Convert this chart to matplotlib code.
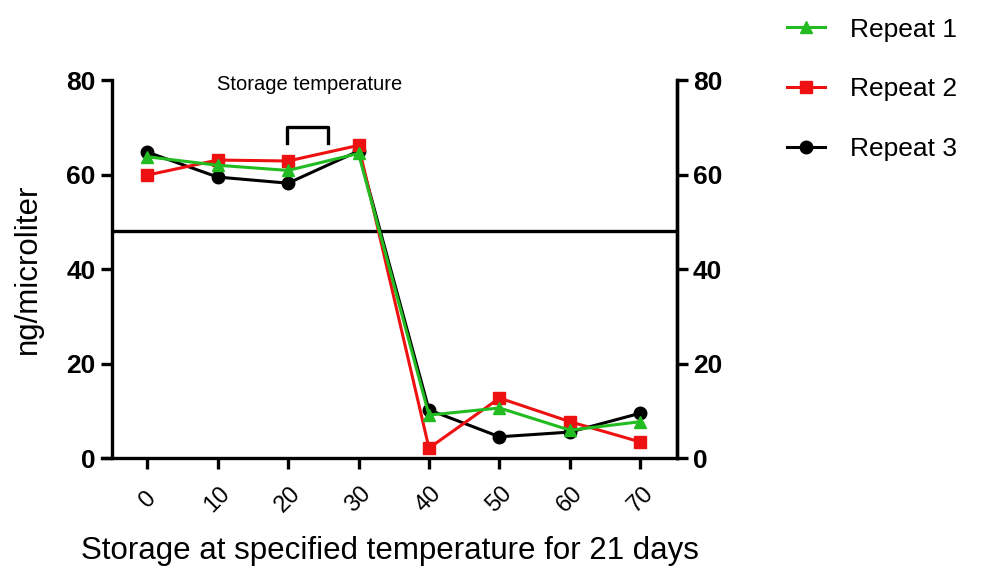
import matplotlib.pyplot as plt
from matplotlib.lines import Line2D

plt.rcParams['font.family'] = ['Liberation Sans', 'DejaVu Sans']

days = [0, 10, 20, 30, 40, 50, 60, 70]
repeat1 = [63.8, 62.0, 60.9, 64.5, 9.1, 10.6, 5.9, 7.7]
repeat2 = [59.9, 63.1, 62.9, 66.2, 2.1, 12.7, 7.7, 3.4]
repeat3 = [64.8, 59.5, 58.2, 65.0, 10.2, 4.5, 5.5, 9.5]
threshold = 48
yticks = [0, 20, 40, 60, 80]

fig = plt.figure(figsize=(9.87, 5.69), dpi=100)
ax = fig.add_axes([0.1033, 0.195, 0.5827, 0.664])

ax.plot(days, repeat3, color='black', marker='o', ms=9, lw=2.2, zorder=3)
ax.plot(days, repeat2, color='#ee1111', marker='s', ms=9, lw=2.2, zorder=4)
ax.plot(days, repeat1, color='#22bb22', marker='^', ms=9, lw=2.2, zorder=5)
ax.hlines(threshold, -5, 75.2, color='black', lw=2.4, zorder=2)

# bracket + annotation
ax.plot([19.9, 19.9, 25.7, 25.7], [66.7, 70, 70, 66.7], color='black', lw=2.4, clip_on=False)
ax.text(23.1, 79, 'Storage temperature', ha='center', va='center', fontsize=14.5)

ax.set_xlim(-6.4, 75.2)
ax.set_ylim(0, 80)
ax.spines['left'].set_position(('data', -5))
ax.spines['top'].set_visible(False)
for s in ['left', 'right', 'bottom']:
    ax.spines[s].set_linewidth(2.4)

ax.set_xticks(days)
ax.set_xticklabels([str(d) for d in days], rotation=45, fontsize=17,
                   ha='center', va='center')
ax.set_yticks(yticks)
ax.set_yticklabels([str(v) for v in yticks], fontsize=19, fontweight='bold')
ax.tick_params(width=2.4, length=8)
ax.tick_params(axis='x', pad=22)

ax2 = ax.twinx()
ax2.set_ylim(0, 80)
ax2.set_yticks(yticks)
ax2.set_yticklabels([str(v) for v in yticks], fontsize=19, fontweight='bold')
ax2.tick_params(width=2.4, length=8)
for s in ['left', 'top', 'bottom']:
    ax2.spines[s].set_visible(False)
ax2.spines['right'].set_linewidth(2.4)

ax.set_xlabel('Storage at specified temperature for 21 days', fontsize=22.5, labelpad=14)
ax.set_ylabel('ng/microliter', fontsize=22.5, labelpad=17)

handles = [
    Line2D([], [], color='#22bb22', marker='^', ms=9, lw=2.2),
    Line2D([], [], color='#ee1111', marker='s', ms=9, lw=2.2),
    Line2D([], [], color='black', marker='o', ms=9, lw=2.2),
]
fig.legend(handles, ['Repeat 1', 'Repeat 2', 'Repeat 3'], loc='upper left',
           bbox_to_anchor=(787 / 987, 0.969), frameon=False, fontsize=19,
           borderpad=0, borderaxespad=0,
           handlelength=1.45, handletextpad=0.95, labelspacing=1.35)

fig.savefig('out.png', dpi=100)
